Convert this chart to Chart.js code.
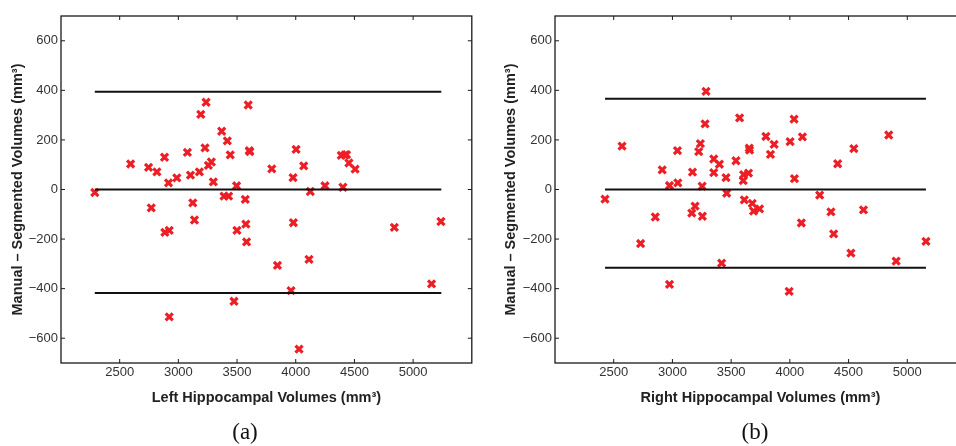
<!DOCTYPE html>
<html>
<head>
<meta charset="utf-8">
<script src="https://cdn.jsdelivr.net/npm/chart.js@4.4.1/dist/chart.umd.min.js"></script>
<style>
  html, body { margin: 0; padding: 0; background: #fff; overflow: hidden; width: 956px; height: 446px; }
  canvas { position: absolute; top: 0; }
  #chartA { left: 0; }
  #chartB { left: 480px; }
  .cap { position: absolute; font-family: "Liberation Serif", "DejaVu Serif", serif; font-size: 23px; color: #111; transform: translate(-50%, -50%); }
</style>
</head>
<body>
<canvas id="chartA" width="480" height="446"></canvas>
<canvas id="chartB" width="500" height="446"></canvas>
<div class="cap" style="left:245px; top:432px;">(a)</div>
<div class="cap" style="left:755px; top:432px;">(b)</div>
<script>
// axes
const xTicks = [2500, 3000, 3500, 4000, 4500, 5000];
const yTicks = [-600, -400, -200, 0, 200, 400, 600];

// (a) left hippocampus: volume vs manual - segmented difference
const leftX = [2288, 2593, 2746, 2769, 2817, 2882, 2885, 2922, 2916, 2922, 2987, 3077, 3103, 3123, 3137,
  3179, 3191, 3227, 3236, 3256, 3281, 3298, 3369, 3389, 3417, 3428, 3442, 3474, 3496, 3499, 3570, 3575,
  3581, 3595, 3604, 3609, 3796, 3844, 3960, 3977, 3980, 4003, 4028, 4068, 4113, 4124, 4249, 4388, 4402,
  4420, 4433, 4453, 4506, 4840, 5157, 5237];
const leftY = [-12, 103, 89, -74, 71, 130, -173, -165, 27, -514, 47, 150, 58, -54, -123,
  71, 303, 168, 352, 97, 111, 31, 235, -27, 196, -27, 140, -451, 15, -165, -40, -140,
  -211, 341, 157, 153, 83, -306, -408, 48, -134, 162, -644, 95, -282, -8, 15, 138, 9,
  140, 141, 107, 82, -153, -381, -129];
const leftLimits = [394, 0, -418];
const leftSpan = [2288, 5240];

// (b) right hippocampus
const rightX = [2426, 2571, 2729, 2854, 2913, 2975, 2975, 3043, 3046, 3165, 3171, 3193, 3224, 3238, 3253,
  3255, 3278, 3286, 3352, 3352, 3400, 3419, 3456, 3462, 3541, 3572, 3603, 3606, 3612, 3648, 3654, 3657,
  3680, 3691, 3742, 3796, 3835, 3866, 3994, 4002, 4036, 4039, 4098, 4107, 4254, 4350, 4373, 4407, 4520,
  4545, 4627, 4842, 4905, 5159];
const rightY = [-39, 175, -218, -111, 79, 16, -383, 157, 27, -95, 70, -67, 153, 185, 13,
  -108, 265, 396, 123, 68, 102, -297, 48, -15, 116, 289, 36, 60, -42, 66, 167, 159,
  -56, -87, -78, 214, 142, 182, -411, 193, 284, 44, -135, 212, -23, -90, -179, 104, -257,
  165, -82, 220, -289, -209];
const rightLimits = [366, 0, -316];
const rightSpan = [2426, 5159];

const tickFont = { family: '"Liberation Sans", Arial, sans-serif', size: 13 };
const titleFont = { family: '"Liberation Sans", Arial, sans-serif', size: 14.5, weight: 'bold' };

// MATLAB style box with inward ticks on all four sides
const boxPlugin = {
  id: 'box',
  afterDraw(chart) {
    const { ctx, chartArea: a, scales } = chart;
    const len = 4;
    ctx.save();
    ctx.strokeStyle = '#1a1a1a';
    ctx.lineWidth = 1.3;
    ctx.strokeRect(a.left, a.top, a.right - a.left, a.bottom - a.top);
    ctx.lineWidth = 1;
    ctx.beginPath();
    scales.x.ticks.forEach(t => {
      const px = scales.x.getPixelForValue(t.value);
      ctx.moveTo(px, a.bottom); ctx.lineTo(px, a.bottom - len);
      ctx.moveTo(px, a.top); ctx.lineTo(px, a.top + len);
    });
    scales.y.ticks.forEach(t => {
      const py = scales.y.getPixelForValue(t.value);
      ctx.moveTo(a.left, py); ctx.lineTo(a.left + len, py);
      ctx.moveTo(a.right, py); ctx.lineTo(a.right - len, py);
    });
    ctx.stroke();
    ctx.restore();
  }
};

function makeChart(id, xs, ys, limits, span, xTitle, yAxisWidth, yTitlePad, padRight) {
  const points = xs.map((x, i) => ({ x: x, y: ys[i] }));
  const lineSets = limits.map(v => ({
    type: 'line',
    data: [{ x: span[0], y: v }, { x: span[1], y: v }],
    borderColor: '#111',
    borderWidth: 2,
    pointRadius: 0,
    fill: false
  }));
  return new Chart(document.getElementById(id), {
    type: 'scatter',
    data: {
      datasets: lineSets.concat([{
        data: points,
        pointStyle: 'crossRot',
        pointRadius: 5,
        pointBorderWidth: 3.2,
        borderColor: '#ec1f26',
        backgroundColor: '#ec1f26'
      }])
    },
    options: {
      responsive: false,
      animation: false,
      events: [],
      layout: { padding: { top: 16, right: padRight, bottom: 39, left: 0 } },
      plugins: { legend: { display: false }, tooltip: { enabled: false } },
      scales: {
        x: {
          type: 'linear', min: 2000, max: 5500,
          afterBuildTicks: s => { s.ticks = xTicks.map(v => ({ value: v })); },
          afterFit: s => { s.height = 44; },
          grid: { display: false, drawTicks: false },
          border: { display: false },
          ticks: { font: tickFont, color: '#333', padding: 2, maxRotation: 0, callback: v => String(v) },
          title: { display: true, text: xTitle, font: titleFont, color: '#222', padding: 0 }
        },
        y: {
          type: 'linear', min: -700, max: 700,
          afterBuildTicks: s => { s.ticks = yTicks.map(v => ({ value: v })); },
          afterFit: s => { s.width = yAxisWidth; },
          grid: { display: false, drawTicks: false },
          border: { display: false },
          ticks: { font: tickFont, color: '#333', padding: 3, callback: v => String(v).replace('-', '\u2212') },
          title: { display: true, text: 'Manual \u2013 Segmented Volumes (mm\u00b3)', font: titleFont, color: '#222', padding: { top: yTitlePad, bottom: 0 } }
        }
      }
    },
    plugins: [boxPlugin]
  });
}

makeChart('chartA', leftX, leftY, leftLimits, leftSpan, 'Left Hippocampal Volumes (mm\u00b3)', 61, 9, 7);
makeChart('chartB', rightX, rightY, rightLimits, rightSpan, 'Right Hippocampal Volumes (mm\u00b3)', 75, 22, 14);
</script>
</body>
</html>
